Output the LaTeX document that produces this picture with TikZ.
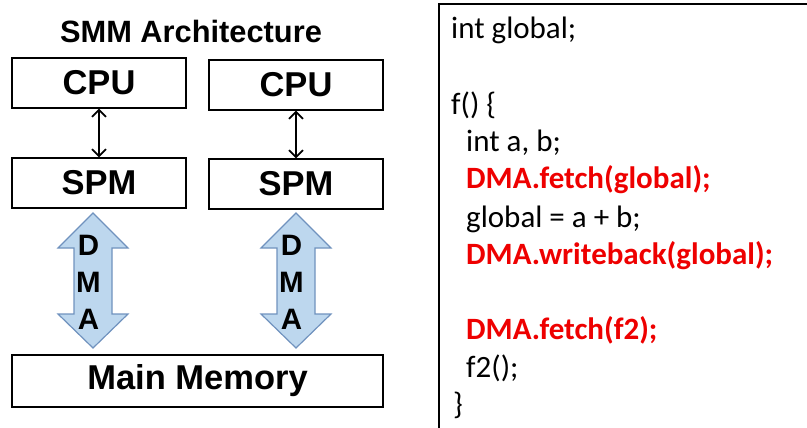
\documentclass[tikz,border=0pt]{standalone}
\usepackage{fontspec}
\setmainfont{Liberation Sans}
\newfontfamily\codefont{Carlito}
\usetikzlibrary{arrows.meta}
\definecolor{dmafill}{RGB}{189,215,238}
\definecolor{dmaline}{RGB}{112,146,190}
\definecolor{hot}{RGB}{238,0,0}
\tikzset{
  unitbox/.style={draw, line width=1.2pt, minimum width=174pt, minimum height=50pt,
    inner sep=0pt, font=\fontsize{34.5}{34.5}\selectfont\bfseries},
  bus/.style={line width=1.7pt, {Straight Barb[length=7pt,width=14pt]}-{Straight Barb[length=7pt,width=14pt]}},
  dmaarrow/.style={fill=dmafill, draw=dmaline, line width=1.2pt, line join=miter},
  dmatext/.style={font=\fontsize{29.5}{29.5}\selectfont\bfseries, inner sep=0pt},
  codeline/.style={anchor=base west, inner sep=0pt, font=\codefont\fontsize{31}{31}\selectfont},
  hotline/.style={codeline, text=hot, font=\codefont\bfseries\fontsize{31}{31}\selectfont}
}
\begin{document}
\begin{tikzpicture}[x=1pt, y=-1pt]
\useasboundingbox (0,0) rectangle (807,428);
\clip (0,0) rectangle (807,428);

% architecture panel
\node[font=\fontsize{30.8}{30.8}\selectfont\bfseries, anchor=base] (title) at (191,43) {SMM Architecture};
\node[unitbox] (cpu1) at (99,83) {CPU};
\node[unitbox] (cpu2) at (296,85) {CPU};
\node[unitbox] (spm1) at (99,183) {SPM};
\node[unitbox] (spm2) at (296,184) {SPM};
\node[draw, line width=1.2pt, minimum width=371pt, minimum height=52pt, inner sep=0pt,
  font=\fontsize{34.5}{34.5}\selectfont\bfseries] (mem) at (197.5,381) {Main Memory};

\draw[bus] (cpu1.south) -- (spm1.north);
\draw[bus] (cpu2.south) -- (spm2.north);

% DMA block arrows between scratchpads and main memory
\foreach \cx/\nm in {93/dmaL, 296/dmaR}{
  \draw[dmaarrow] (\cx,213) -- (\cx+35,248) -- (\cx+19,248) -- (\cx+19,314) -- (\cx+35,314)
    -- (\cx,348) -- (\cx-35,314) -- (\cx-19,314) -- (\cx-19,248) -- (\cx-35,248) -- cycle;
  \node[dmatext] (\nm D) at (\cx-4.5,245) {D};
  \node[dmatext] (\nm M) at (\cx-4.5,282) {M};
  \node[dmatext] (\nm A) at (\cx-4.5,319) {A};
}

% code panel
\draw[line width=1.5pt] (439,432) -- (439,4) -- (812,4);
\node[codeline] (l0) at (451,39) {int global;};
\node[codeline] (l2) at (451,114) {f() \{};
\node[codeline] (l3) at (466,152) {int a, b;};
\node[hotline] (l4) at (466,189) {DMA.fetch(global);};
\node[codeline] (l5) at (466,227) {global = a + b;};
\node[hotline] (l6) at (466,264) {DMA.writeback(global);};
\node[hotline] (l8) at (466,339) {DMA.fetch(f2);};
\node[codeline] (l9) at (466,377) {f2();};
\node[codeline] (l10) at (453,414) {\}};
\end{tikzpicture}
\end{document}
